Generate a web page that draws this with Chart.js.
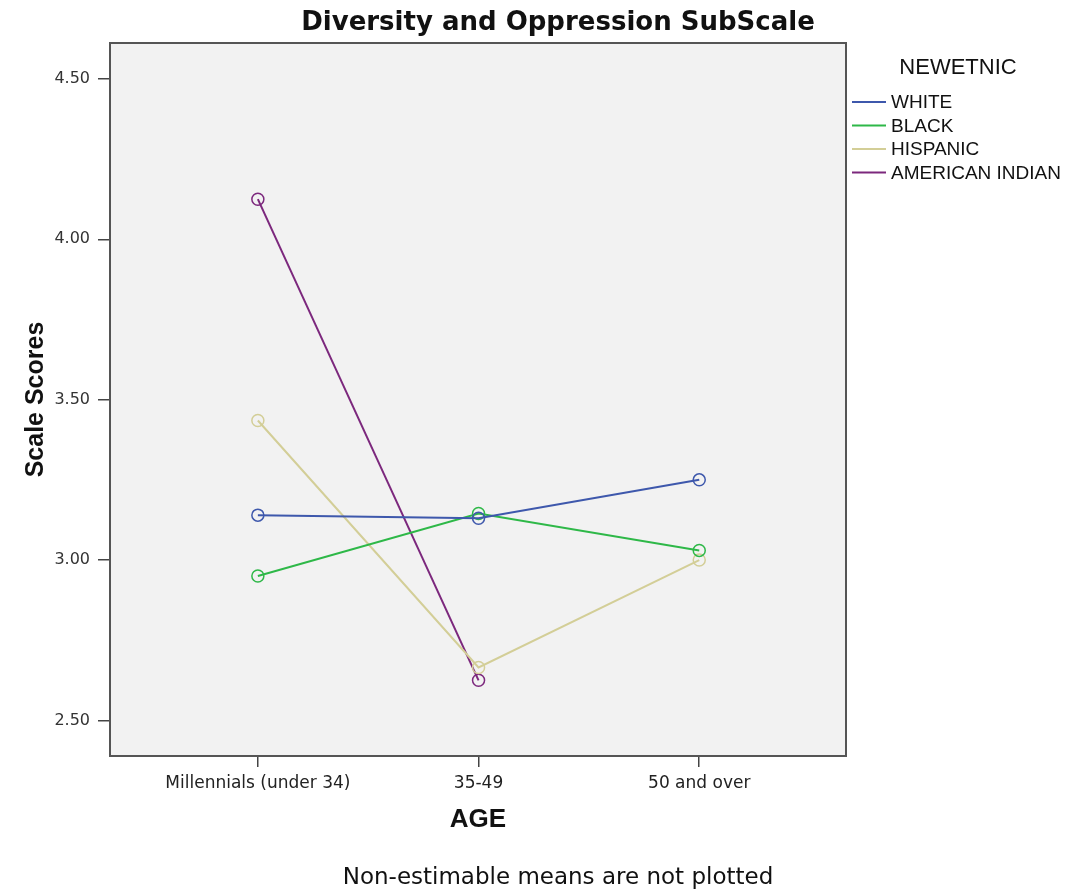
<!DOCTYPE html>
<html>
<head>
<meta charset="utf-8">
<script src="https://cdn.jsdelivr.net/npm/chart.js@4/dist/chart.umd.min.js"></script>
<style>
  html, body { margin: 0; padding: 0; background: #fff; }
  #wrap { width: 1070px; height: 895px; }
</style>
</head>
<body>
<div id="wrap"><canvas id="meansChart" width="1070" height="895"></canvas></div>
<script>
// Diversity and Oppression SubScale - estimated marginal means by AGE / NEWETNIC

const ageGroups = ['Millennials (under 34)', '35-49', '50 and over'];
const whiteScores = [3.14, 3.13, 3.25];
const blackScores = [2.95, 3.145, 3.03];
const hispanicScores = [3.435, 2.665, 3.00];
const amIndianScores = [4.125, 2.625, null]; // 50 and over not estimable
const yTicks = [2.50, 3.00, 3.50, 4.00, 4.50];

const groupNames = ['WHITE', 'BLACK', 'HISPANIC', 'AMERICAN INDIAN'];
const groupColors = ['#3E58AC', '#2EB848', '#D3CE97', '#7C287D'];
const groupScores = [whiteScores, blackScores, hispanicScores, amIndianScores];

const sansFont = '"Liberation Sans", Arial, sans-serif';
const wideFont = '"DejaVu Sans", Verdana, sans-serif';

function toPoints(vals) {
    return ageGroups.map((_, i) => ({ x: i, y: vals[i] }));
}

const datasets = groupNames.map((name, i) => ({
    label: name,
    data: toPoints(groupScores[i]),
    borderColor: groupColors[i],
    borderWidth: 2,
    pointStyle: 'circle',
    pointRadius: 6,
    pointBorderWidth: 1.5,
    pointBorderColor: groupColors[i],
    pointBackgroundColor: 'rgba(0,0,0,0)',
    spanGaps: false
}));

// plot background, frame, titles and the legend on the right
const spssDecor = {
    id: 'spssDecor',
    beforeDraw(chart) {
        const { ctx, chartArea: a } = chart;
        ctx.save();
        ctx.fillStyle = '#f2f2f2';
        ctx.fillRect(a.left, a.top, a.right - a.left, a.bottom - a.top);
        ctx.restore();
    },
    beforeDatasetsDraw(chart) {
        const { ctx, chartArea: a } = chart;
        ctx.save();
        ctx.strokeStyle = '#555';
        ctx.lineWidth = 2;
        ctx.strokeRect(a.left, a.top, a.right - a.left, a.bottom - a.top);
        ctx.restore();
    },
    afterDraw(chart) {
        const ctx = chart.ctx;
        ctx.save();
        ctx.fillStyle = '#111';
        ctx.textAlign = 'center';
        ctx.textBaseline = 'middle';
        ctx.font = 'bold 26px ' + wideFont;
        ctx.fillText('Diversity and Oppression SubScale', 558, 23);
        ctx.font = '23px ' + wideFont;
        ctx.fillText('Non-estimable means are not plotted', 558, 878);

        // legend
        ctx.font = '22px ' + sansFont;
        ctx.fillText('NEWETNIC', 958, 68);
        ctx.textAlign = 'left';
        ctx.font = '19px ' + sansFont;
        chart.data.datasets.forEach((ds, i) => {
            const y = 102 + i * 23.5;
            ctx.strokeStyle = ds.borderColor;
            ctx.lineWidth = 2;
            ctx.beginPath();
            ctx.moveTo(852, y);
            ctx.lineTo(886, y);
            ctx.stroke();
            ctx.fillStyle = '#111';
            ctx.fillText(ds.label, 891, y + 1);
        });
        ctx.restore();
    }
};

new Chart(document.getElementById('meansChart').getContext('2d'), {
    type: 'line',
    data: { datasets },
    options: {
        responsive: false,
        animation: false,
        layout: { padding: { left: 0, top: 43, right: 224, bottom: 57 } },
        plugins: {
            legend: { display: false },
            title: { display: false },
            tooltip: { enabled: false }
        },
        scales: {
            x: {
                type: 'linear',
                min: -0.67,
                max: 2.665,
                afterBuildTicks: (s) => { s.ticks = ageGroups.map((_, i) => ({ value: i })); },
                afterFit: (s) => { s.height = 82; },
                border: { display: false },
                grid: { drawOnChartArea: false, drawTicks: true, tickLength: 11, tickColor: '#444', lineWidth: 1.5 },
                ticks: {
                    callback: (v) => ageGroups[v],
                    color: '#222',
                    padding: 6,
                    maxRotation: 0,
                    font: { family: wideFont, size: 17 }
                },
                title: {
                    display: true,
                    text: 'AGE',
                    color: '#111',
                    padding: { top: 0, bottom: 3 },
                    font: { family: sansFont, size: 26, weight: 'bold' }
                }
            },
            y: {
                min: 2.389,
                max: 4.612,
                afterBuildTicks: (s) => { s.ticks = yTicks.map(v => ({ value: v })); },
                afterFit: (s) => { s.width = 110; },
                border: { display: false },
                grid: { drawOnChartArea: false, drawTicks: true, tickLength: 12, tickColor: '#444', lineWidth: 1.5 },
                ticks: {
                    callback: (v) => v.toFixed(2),
                    color: '#333',
                    padding: 8,
                    font: { family: wideFont, size: 16 }
                },
                title: {
                    display: true,
                    text: 'Scale Scores',
                    color: '#111',
                    padding: { top: 21, bottom: 0 },
                    font: { family: sansFont, size: 25, weight: 'bold' }
                }
            }
        }
    },
    plugins: [spssDecor]
});
</script>
</body>
</html>
